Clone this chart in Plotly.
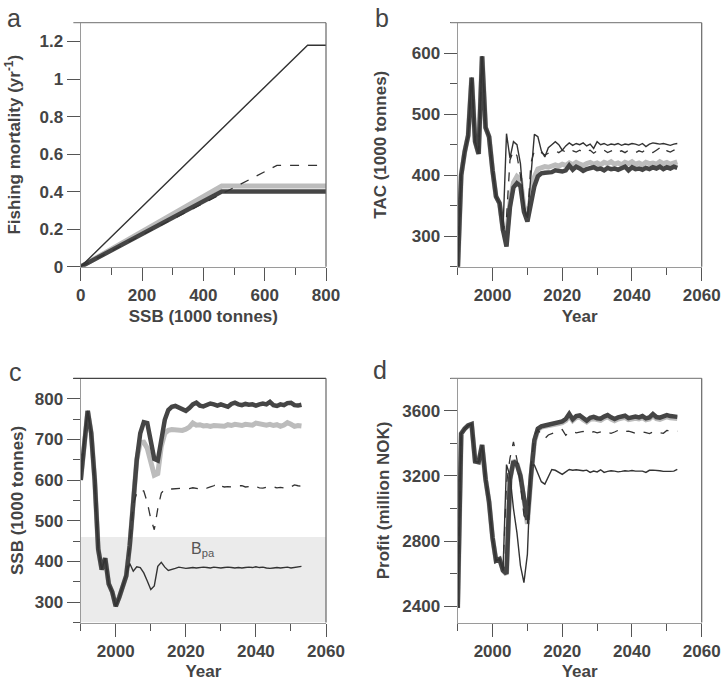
import plotly.graph_objects as go

# ---- data ----
years = list(range(1990, 2054))

# panel a: harvest control rules (SSB breakpoints, F)
hcr_thin_x = [0, 740, 800]
hcr_thin_y = [0, 1.18, 1.18]
hcr_dash_x = [0, 640, 800]
hcr_dash_y = [0, 0.54, 0.54]
hcr_gray_x = [0, 460, 800]
hcr_gray_y = [0, 0.43, 0.43]
hcr_dark_x = [0, 460, 800]
hcr_dark_y = [0, 0.40, 0.40]

# panel b: TAC (1000 tonnes); history 1990-2003, projections 2004-2053
tac_hist = [243, 400, 438, 465, 560, 455, 435, 595, 478, 463, 408, 365, 354, 310]
tac_dark = [283, 348, 380, 387, 382, 340, 324, 350, 382, 398, 403, 404, 405, 405, 408, 407, 406, 408, 416, 409,
            414, 411, 407, 410, 412, 413, 410, 411, 408, 412, 410, 411, 409, 412, 414, 408, 413, 410, 411, 409,
            412, 410, 413, 411, 414, 410, 413, 411, 414, 412]
tac_gray = [300, 355, 388, 398, 393, 348, 332, 365, 397, 410, 413, 414, 413, 415, 417, 415, 418, 416, 420, 417,
            421, 418, 416, 419, 421, 418, 420, 417, 421, 419, 422, 418, 420, 417, 421, 419, 422, 418, 420, 417,
            421, 419, 420, 418, 422, 419, 421, 418, 420, 422]
tac_dash = [330, 425, 440, 432, 400, 345, 326, 420, 440, 440, 437, 433, 436, 438, 440, 437, 441, 438, 436, 440,
            438, 441, 437, 439, 441, 436, 440, 438, 441, 437, 439, 442, 438, 440, 437, 441, 439, 437, 440, 438,
            442, 439, 437, 441, 445, 438, 440, 438, 441, 441]
tac_thin = [468, 428, 455, 450, 419, 350, 330, 400, 467, 463, 440, 430, 445, 450, 455, 450, 441, 448, 453, 449,
            452, 450, 453, 448, 451, 444, 455, 450, 452, 449, 451, 450, 452, 449, 451, 450, 452, 451, 449, 452,
            447, 451, 453, 452, 451, 452, 450, 449, 451, 452]

# panel c: SSB (1000 tonnes)
ssb_hist = [600, 700, 770, 715, 600, 430, 380, 408, 345, 325, 290, 312, 340, 365]
ssb_dark = [440, 540, 650, 715, 742, 740, 700, 652, 648, 705, 748, 772, 780, 782, 778, 772, 770, 777, 786, 790,
            783, 781, 784, 788, 786, 783, 786, 782, 780, 787, 790, 786, 784, 787, 785, 786, 783, 786, 788, 786,
            792, 784, 782, 786, 784, 789, 790, 784, 783, 785]
ssb_gray = [440, 540, 650, 692, 693, 678, 638, 612, 616, 683, 715, 722, 724, 723, 723, 722, 725, 730, 740, 735,
            736, 733, 734, 732, 734, 733, 735, 732, 736, 734, 737, 735, 734, 737, 736, 735, 740, 738, 736, 735,
            737, 734, 736, 732, 735, 741, 737, 732, 734, 733]
ssb_dash = [440, 540, 568, 577, 573, 545, 505, 478, 530, 568, 577, 579, 578, 579, 579, 580, 580, 579, 581, 580,
            578, 582, 580, 583, 586, 592, 585, 583, 584, 583, 585, 586, 586, 583, 584, 587, 584, 581, 580, 582,
            585, 583, 581, 582, 580, 579, 583, 588, 586, 585]
ssb_thin = [395, 376, 387, 385, 372, 352, 331, 340, 388, 398, 386, 378, 380, 383, 386, 385, 383, 384, 385, 384,
            385, 386, 385, 384, 386, 385, 384, 385, 386, 385, 384, 385, 384, 385, 386, 385, 387, 385, 386, 384,
            383, 384, 385, 384, 385, 386, 384, 385, 386, 388]
b_pa = 460

# panel d: profit (million NOK)
prof_hist = [2390, 3460, 3490, 3510, 3518, 3290, 3285, 3390, 3180, 3040, 2820, 2680, 2690, 2620]
prof_dark = [2600, 3180, 3290, 3270, 3200, 3050, 2930, 3200, 3420, 3490, 3505, 3510, 3515, 3522, 3527, 3530, 3535, 3550, 3582, 3548,
             3568, 3572, 3555, 3540, 3558, 3563, 3555, 3552, 3565, 3574, 3560, 3550, 3560, 3565, 3570, 3555, 3562, 3565, 3560, 3568,
             3554, 3560, 3580, 3562, 3558, 3565, 3574, 3568, 3565, 3563]
prof_gray = [2595, 3175, 3295, 3275, 3205, 3040, 2905, 3190, 3410, 3485, 3500, 3505, 3508, 3515, 3518, 3522, 3528, 3540, 3570, 3540,
             3558, 3562, 3545, 3532, 3548, 3552, 3546, 3542, 3555, 3564, 3550, 3540, 3550, 3556, 3560, 3546, 3552, 3555, 3550, 3558,
             3545, 3550, 3570, 3552, 3548, 3555, 3564, 3558, 3555, 3553]
prof_dash = [3150, 3310, 3410, 3300, 3150, 2960, 2900, 3250, 3450, 3485, 3455, 3430, 3452, 3460, 3468, 3478, 3485, 3450, 3468, 3472,
             3465, 3470, 3474, 3462, 3468, 3472, 3465, 3470, 3476, 3468, 3462, 3470, 3480, 3468, 3472, 3476, 3470, 3462, 3468, 3472,
             3466, 3460, 3470, 3474, 3465, 3462, 3480, 3478, 3470, 3475]
prof_thin = [3270, 3200, 3000, 2850, 2650, 2545, 2720, 3265, 3268, 3210, 3165, 3150, 3195, 3240, 3235, 3225, 3210, 3225, 3240, 3235,
             3238, 3235, 3232, 3236, 3222, 3230, 3225, 3238, 3222, 3228, 3232, 3230, 3225, 3228, 3232, 3230, 3234, 3230, 3228, 3230,
             3222, 3235, 3236, 3235, 3232, 3228, 3226, 3228, 3230, 3240]

# ---- styles ----
INK = "#444444"
styles = {
    "gray": dict(color="#bcbcbc", width=5),
    "dark": dict(color="#454545", width=4.5),
    "dash": dict(color="#333333", width=1.3, dash="dash"),
    "thin": dict(color="#333333", width=1.4),
}
FONT = "Liberation Sans, Arial, sans-serif"
tickfont = dict(family=FONT, size=17, color=INK, weight="bold")
titlefont = dict(family=FONT, size=17, color=INK, weight="bold")

fig = go.Figure()


def add(x, y, kind, xa, ya):
    fig.add_trace(go.Scatter(x=x, y=y, mode="lines", line=styles[kind],
                             xaxis=xa, yaxis=ya, showlegend=False, hoverinfo="skip"))


# panel a
add(hcr_gray_x, hcr_gray_y, "gray", "x", "y")
add(hcr_dark_x, hcr_dark_y, "dark", "x", "y")
add(hcr_dash_x, hcr_dash_y, "dash", "x", "y")
add(hcr_thin_x, hcr_thin_y, "thin", "x", "y")

# panels b, c, d
for hist, series, n in [
    (tac_hist, dict(gray=tac_gray, dark=tac_dark, dash=tac_dash, thin=tac_thin), "2"),
    (ssb_hist, dict(gray=ssb_gray, dark=ssb_dark, dash=ssb_dash, thin=ssb_thin), "3"),
    (prof_hist, dict(gray=prof_gray, dark=prof_dark, dash=prof_dash, thin=prof_thin), "4"),
]:
    for kind in ["gray", "dark", "dash", "thin"]:
        add(years, hist + series[kind], kind, "x" + n, "y" + n)

W, H = 722, 687
colx = [(80.7 / W, 326 / W), (457.7 / W, 701.7 / W)]
rowy = [(1 - 266.7 / H, 1 - 22.7 / H), (1 - 622.5 / H, 1 - 378.3 / H)]


def xax(domain, rng, dtick, minor, title, anchor):
    return dict(domain=domain, range=rng, tick0=0, dtick=dtick, anchor=anchor, automargin=False,
                showline=True, linecolor="#9a9a9a", linewidth=1.2,
                ticks="outside", ticklen=13, tickcolor="#555", tickwidth=1,
                minor=dict(ticks="outside", ticklen=7, tickcolor="#555", dtick=minor, tick0=0),
                showgrid=False, zeroline=False, tickfont=tickfont,
                title=dict(text=title, font=titlefont, standoff=5))


def yax(domain, rng, tick0, dtick, minor, title, anchor, standoff):
    return dict(domain=domain, range=rng, tick0=tick0, dtick=dtick, anchor=anchor, automargin=False,
                showline=True, linecolor="#9a9a9a", linewidth=1.2,
                ticks="outside", ticklen=13, tickcolor="#555", tickwidth=1,
                minor=dict(ticks="outside", ticklen=7, tickcolor="#555", dtick=minor, tick0=tick0),
                showgrid=False, zeroline=False, tickfont=tickfont,
                title=dict(text=title, font=titlefont, standoff=standoff))


fig.update_layout(
    width=W, height=H, margin=dict(l=0, r=0, t=0, b=0),
    paper_bgcolor="white", plot_bgcolor="white",
    xaxis=xax(colx[0], [0, 800], 200, 100, "SSB (1000 tonnes)", "y"),
    yaxis=yax(rowy[0], [0, 1.3], 0, 0.2, 0.2, "Fishing mortality (yr<sup>-1</sup>)", "x", 14),
    xaxis2=xax(colx[1], [1990, 2060], 20, 10, "Year", "y2"),
    yaxis2=yax(rowy[0], [250, 650], 300, 100, 50, "TAC (1000 tonnes)", "x2", 20),
    xaxis3=xax(colx[0], [1990, 2060], 20, 10, "Year", "y3"),
    yaxis3=yax(rowy[1], [250, 850], 300, 100, 50, "SSB (1000 tonnes)", "x3", 6),
    xaxis4=xax(colx[1], [1990, 2060], 20, 10, "Year", "y4"),
    yaxis4=yax(rowy[1], [2300, 3800], 2400, 400, 200, "Profit (million NOK)", "x4", 8),
)

shapes = [dict(type="rect", xref="x3 domain", yref="y3", x0=0, x1=1, y0=250, y1=b_pa,
               fillcolor="#ebebeb", line=dict(width=0), layer="below")]
for n, topcol in [("", "#8a8a8a"), ("2", "#8a8a8a"), ("3", "#444444"), ("4", "#8a8a8a")]:
    shapes.append(dict(type="line", xref="x%s domain" % n, yref="y%s domain" % n,
                       x0=-0.03, x1=1, y0=1, y1=1, line=dict(color=topcol, width=1.3)))
    shapes.append(dict(type="line", xref="x%s domain" % n, yref="y%s domain" % n,
                       x0=1, x1=1, y0=0, y1=1, line=dict(color="#666", width=1.2)))
fig.update_layout(shapes=shapes)

letters = [("a", 5, 2), ("b", 373, 2), ("c", 7, 356), ("d", 371, 354)]
annots = [dict(text=t, x=px / W, y=1 - py / H, xref="paper", yref="paper",
               xanchor="left", yanchor="top", showarrow=False,
               font=dict(family=FONT, size=25, color=INK)) for t, px, py in letters]
annots.append(dict(text="B<sub>pa</sub>", x=2025, y=430, xref="x3", yref="y3",
                   showarrow=False, font=dict(family=FONT, size=16, color="#555")))
fig.update_layout(annotations=annots)

# page has a default body margin and may scroll; pin the figure to the window origin
fig.write_html("out.html", config={"displayModeBar": False},
               post_script="document.body.style.margin='0';document.body.style.overflow='hidden';")
